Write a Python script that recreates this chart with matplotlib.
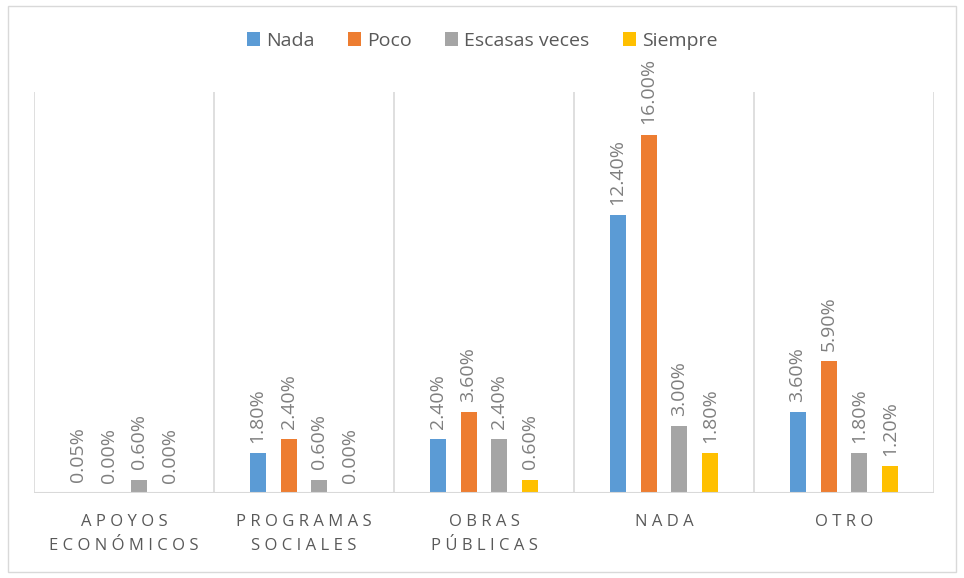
import matplotlib.pyplot as plt
import numpy as np
from matplotlib.patches import Rectangle

categorias = ["A P O Y O S\nE C O N Ó M I C O S", "P R O G R A M A S\nS O C I A L E S",
              "O B R A S\nP Ú B L I C A S", "N A D A", "O T R O"]
series = ["Nada", "Poco", "Escasas veces", "Siempre"]
nada = [0.05, 1.80, 2.40, 12.40, 3.60]
poco = [0.00, 2.40, 3.60, 16.00, 5.90]
escasas = [0.60, 0.60, 2.40, 3.00, 1.80]
siempre = [0.00, 0.00, 0.60, 1.80, 1.20]
colores = ["#5b9bd5", "#ed7d31", "#a5a5a5", "#ffc000"]

plt.rcParams['font.family'] = ['Open Sans', 'DejaVu Sans']

fig = plt.figure(figsize=(9.64, 5.78), dpi=100)
ax = fig.add_axes([34/964, 85/578, 900/964, 401/578])

x = np.arange(len(categorias))
ancho = 0.089
paso = 0.172
valores = [nada, poco, escasas, siempre]
for i, (vals, nombre, c) in enumerate(zip(valores, series, colores)):
    pos = x + (i - 1.5) * paso
    ax.bar(pos, vals, width=ancho, color=c, label=nombre)
    for p, v in zip(pos, vals):
        ax.text(p, v + 0.45, "%.2f%%" % v, rotation=90, ha='center', va='bottom',
                fontsize=14, color='#7f7f7f')

ax.set_xlim(-0.5, len(categorias) - 0.5)
ax.set_ylim(0, 17.9)
for b in np.arange(-0.5, len(categorias), 1):
    ax.axvline(b, color='#d9d9d9', lw=1.2, zorder=0)
ax.axhline(0, color='#d9d9d9', lw=1.5)
for s in ax.spines.values():
    s.set_visible(False)
ax.set_yticks([])
ax.set_xticks(x)
ax.set_xticklabels(categorias, fontsize=12, color='#595959', linespacing=1.7)
ax.tick_params(axis='x', length=0, pad=15)

fig.legend(loc='upper center', bbox_to_anchor=(0.5, 0.975), ncol=4, frameon=False,
           fontsize=14, handlelength=0.7, handleheight=0.7, handletextpad=0.3,
           columnspacing=1.7, labelcolor='#595959')

fig.patches.append(Rectangle((8/964, 6/578), 948/964, 566/578, transform=fig.transFigure,
                             fill=False, edgecolor='#d9d9d9', lw=1))

fig.savefig("out.png", dpi=100)
